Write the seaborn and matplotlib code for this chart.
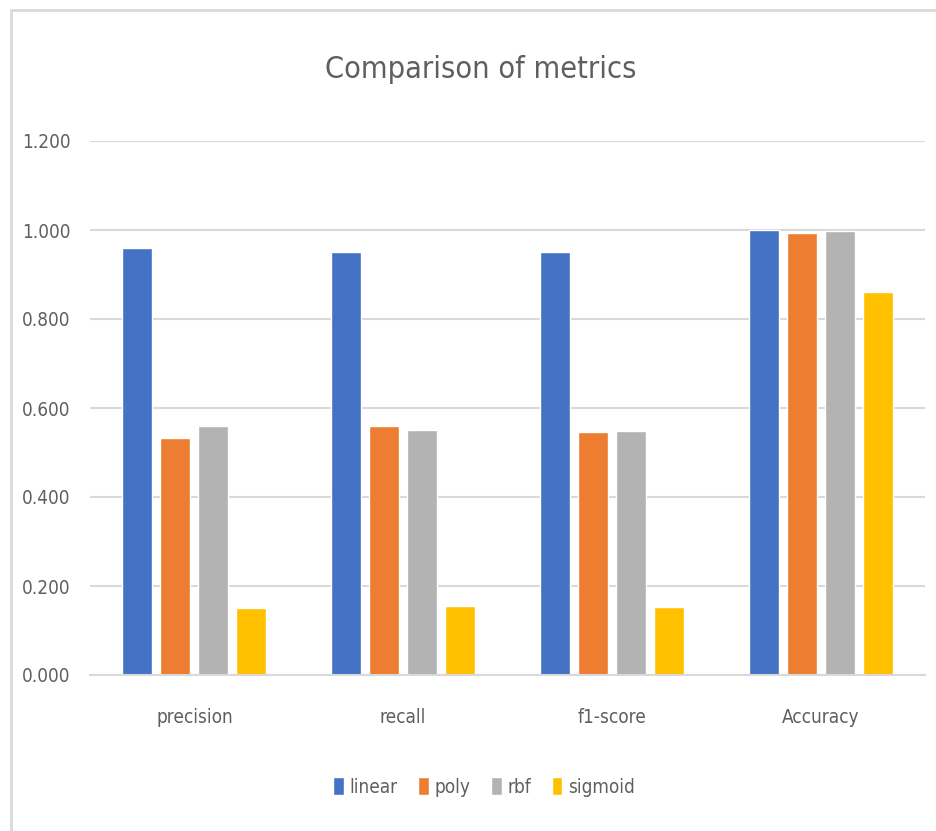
import matplotlib
matplotlib.use("Agg")
import matplotlib.pyplot as plt
import matplotlib.patches as mpatches
import seaborn as sns
import pandas as pd
from matplotlib import font_manager

# Metric values per kernel
metrics = ["precision", "recall", "f1-score", "Accuracy"]
kernels = ["linear", "poly", "rbf", "sigmoid"]
linear = [0.960, 0.951, 0.951, 1.000]
poly = [0.533, 0.560, 0.545, 0.993]
rbf = [0.560, 0.551, 0.549, 0.997]
sigmoid = [0.151, 0.155, 0.153, 0.861]
yticks = [0.0, 0.2, 0.4, 0.6, 0.8, 1.0, 1.2]

colors = ["#4472C4", "#ED7D31", "#B3B3B3", "#FFC000"]
text_color = "#5f5f5f"
grid_color = "#D9D9D9"

rows = []
for kernel, vals in zip(kernels, [linear, poly, rbf, sigmoid]):
    for m, v in zip(metrics, vals):
        rows.append({"metric": m, "kernel": kernel, "value": v})
df = pd.DataFrame(rows)

sns.set_theme(style="white")

# Prefer a narrow sans face when one is installed
narrow = None
for f in font_manager.fontManager.ttflist:
    label = (f.name + " " + f.fname).lower()
    if f.style == "normal" and f.weight in (400, "normal", "regular") and \
            ("narrow" in label or "condensed" in label) and "mono" not in label \
            and "serif" not in label.replace("sans", ""):
        narrow = f
        break
if narrow is not None:
    font_manager.fontManager.addfont(narrow.fname)
    plt.rcParams["font.family"] = [narrow.name, "DejaVu Sans"]
    plt.rcParams["font.stretch"] = narrow.stretch
    scale = 0.8
else:
    plt.rcParams["font.family"] = ["Liberation Sans", "DejaVu Sans"]
    scale = 0.72

fig = plt.figure(figsize=(9.36, 8.31), dpi=100)
ax = fig.add_axes([90 / 936, 1 - 675 / 831, (925 - 90) / 936, (675 - 141) / 831])

sns.barplot(data=df, x="metric", y="value", hue="kernel", order=metrics,
            hue_order=kernels, palette=colors, width=0.727, gap=0.21,
            saturation=1, ax=ax, legend=False)

ax.set_xlim(-0.5, 3.5)
ax.set_ylim(0, 1.2)
ax.set_yticks(yticks)
ax.set_yticklabels([f"{t:.3f}" for t in yticks])
ax.yaxis.grid(True, color=grid_color, linewidth=1.5)
ax.set_axisbelow(True)
for side in ["top", "right", "left"]:
    ax.spines[side].set_visible(False)
ax.spines["bottom"].set_color(grid_color)
ax.spines["bottom"].set_linewidth(1.5)
ax.tick_params(axis="both", length=0, colors=text_color, labelsize=17 * scale)
ax.tick_params(axis="y", pad=14)
ax.tick_params(axis="x", pad=24)
ax.set_xlabel("")
ax.set_ylabel("")

fig.text(481 / 936, 1 - 70 / 831, "Comparison of metrics", ha="center",
         va="center", fontsize=27.5 * scale, color=text_color)

handles = [mpatches.Patch(facecolor=c, label=k) for c, k in zip(colors, kernels)]
fig.legend(handles=handles, loc="center", bbox_to_anchor=(484 / 936, 1 - 787 / 831),
           ncol=4, frameon=False, fontsize=17 * scale, handlelength=0.55,
           handleheight=1.1, handletextpad=0.3, columnspacing=1.1,
           labelcolor=text_color)

# chart-area frame
fig.add_artist(mpatches.Rectangle((11 / 936, -0.05), 1.1, 1 - 10 / 831 + 0.05,
                                  transform=fig.transFigure, fill=False,
                                  edgecolor="#D9D9D9", linewidth=2))

fig.savefig("out.png", dpi=100)
